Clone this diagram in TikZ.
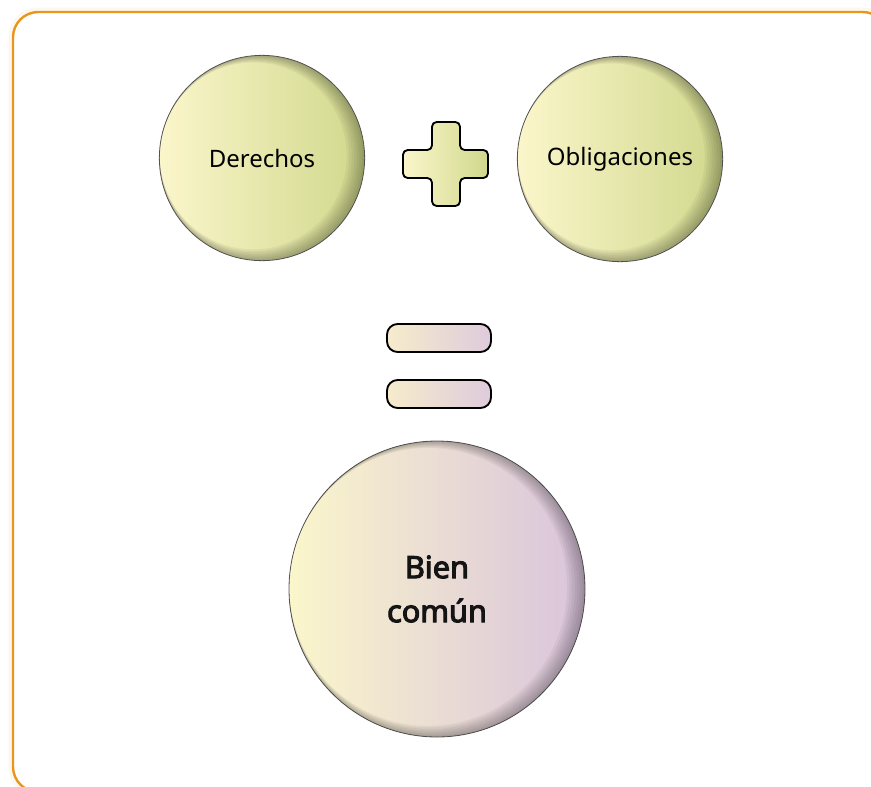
\documentclass[tikz,border=0pt]{standalone}
\usepackage{fontspec}
\setmainfont{Noto Sans}
\newfontfamily\heavysans{Noto Sans}[FakeBold=3.4]
\usepackage{tikz}
\usetikzlibrary{shapes}

\definecolor{frameorange}{RGB}{233,150,30}
\definecolor{ballyellow}{RGB}{251,246,203}
\definecolor{ballgreen}{RGB}{208,216,140}
\definecolor{balllilac}{RGB}{217,195,220}
\definecolor{barcream}{RGB}{246,236,204}
\definecolor{barlilac}{RGB}{222,203,220}

% dark crescent on the lower right of a ball: #1 = node, #2 = radius in units
\newcommand{\ballrim}[2]{%
  \begin{scope}[shift={(#1.center)}]
    \foreach \k in {1,...,7}
      \fill [rimshade, even odd rule] (0,0) circle (#2) (-1.25*\k,-0.3*\k) circle ({#2-1.3*\k});
  \end{scope}}

\tikzset{
  ball/.style={circle, draw={rgb,255:red,95;green,95;blue,95}, line width=0.6pt, inner sep=0pt},
  greenball/.style={ball, left color=ballyellow, right color=ballgreen, minimum size=154pt},
  lilacball/.style={ball, left color=ballyellow, right color=balllilac, minimum size=222pt},
  rimshade/.style={fill=black, fill opacity=0.045},
  smalltext/.style={font=\fontsize{18}{21}\selectfont},
  bigtext/.style={font=\heavysans\fontsize{23}{33}\selectfont, align=center, text={rgb,255:red,20;green,20;blue,20}},
  signpart/.style={draw=black, line width=1.4pt, rounded corners=5pt},
}

\begin{document}
\begin{tikzpicture}[x=0.75pt,y=0.75pt,yscale=-1,xscale=1]
\useasboundingbox (0,0) rectangle (871,786);

%Shape: Rounded Rect [id:frame] 
\draw [line width=7pt, frameorange!7, rounded corners=19pt] (13,12) rectangle (888,792);
\draw [fill=white, draw=frameorange, line width=1.8pt, rounded corners=19pt] (13,12) rectangle (888,792);

%Shape: Circle [id:derechos] 
\node [greenball] (derechos) at (262,158) {};
\ballrim{derechos}{102.5}
%Shape: Circle [id:obligaciones] 
\node [greenball] (obligaciones) at (620,159) {};
\ballrim{obligaciones}{102.5}
%Shape: Circle [id:biencomun] 
\node [lilacball] (biencomun) at (437,589) {};
\ballrim{biencomun}{148}

% Text Node
\node [smalltext] (derechostext) at (derechos) {Derechos};
% Text Node
\node [smalltext] (obligacionestext) at (obligaciones) {Obligaciones};
% Text Node
\node [bigtext] (biencomuntext) at (biencomun) {Bien\\común};

%Shape: Cross [id:plus] 
\draw [signpart, rounded corners=3.5pt, left color=ballyellow, right color=ballgreen] (432,122) -- (460,122) -- (460,150) -- (488,150) -- (488,178) -- (460,178) -- (460,206) -- (432,206) -- (432,178) -- (403,178) -- (403,150) -- (432,150) -- cycle ;

%Shape: Rounded Rect [id:equal1] 
\draw [signpart, rounded corners=8pt, left color=barcream, right color=barlilac] (387,324) rectangle (491,352) ;
%Shape: Rounded Rect [id:equal2] 
\draw [signpart, rounded corners=8pt, left color=barcream, right color=barlilac] (387,380) rectangle (491,408) ;

\end{tikzpicture}
\end{document}
